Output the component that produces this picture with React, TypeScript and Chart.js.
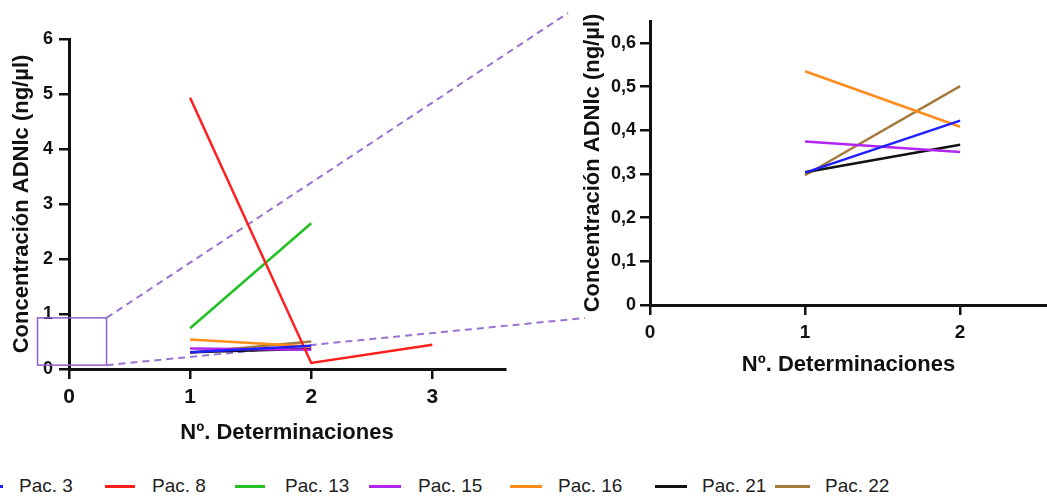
import React, { useEffect, useRef } from 'react';
import { Chart, registerables } from 'chart.js';

Chart.register(...registerables);

// ---------- data ----------
const determinations = [1, 2, 3];
const seriesNames = ['Pac. 3', 'Pac. 8', 'Pac. 13', 'Pac. 15', 'Pac. 16', 'Pac. 21', 'Pac. 22'];
const pac3 = [0.303, 0.422];
const pac8 = [4.93, 0.11, 0.44];
const pac13 = [0.74, 2.65];
const pac15 = [0.374, 0.35];
const pac16 = [0.535, 0.408];
const pac21 = [0.304, 0.367];
const pac22 = [0.297, 0.501];
const seriesValues = [pac3, pac8, pac13, pac15, pac16, pac21, pac22];
const zoomedSeries = [0, 3, 4, 5, 6];

const leftXTicks = [0, 1, 2, 3];
const leftYTicks = [0, 1, 2, 3, 4, 5, 6];
const rightXTicks = [0, 1, 2];
const rightYTicks = [0, 0.1, 0.2, 0.3, 0.4, 0.5, 0.6];
const xTitle = 'Nº. Determinaciones';
const yTitle = 'Concentración ADNlc (ng/µl)';
const zoomBoxX = [-0.26, 0.31];
const zoomBoxY = [0.07, 0.93];

// ---------- styles ----------
const colors = ['#1f1fff', '#ff1f1f', '#22c022', '#b026f0', '#ff8c1a', '#111111', '#a57a3c'];
const FONT = '"Liberation Sans", Arial, Helvetica, sans-serif';
const INK = '#111111';
const legendLayout = [
  { line: [-27, 3], text: 19 },
  { line: [105, 135], text: 152 },
  { line: [235, 265], text: 285 },
  { line: [369, 401], text: 418 },
  { line: [510, 542], text: 558 },
  { line: [655, 687], text: 702 },
  { line: [775, 810], text: 825 },
];

const toPoints = (vals: number[]) => vals.map((v, i) => ({ x: determinations[i], y: v }));

function makeDatasets(indices: number[]) {
  return indices.map((i) => ({
    label: seriesNames[i],
    data: toPoints(seriesValues[i]),
    borderColor: colors[i],
    backgroundColor: colors[i],
    borderWidth: 2.5,
    pointRadius: 0,
    pointHoverRadius: 0,
    tension: 0,
  }));
}

function makeScales(o: any) {
  const commonGrid = {
    drawOnChartArea: false,
    drawTicks: true,
    tickLength: 10,
    tickWidth: 2.5,
    tickColor: INK,
    color: INK,
    lineWidth: 2.5,
  };
  return {
    x: {
      type: 'linear',
      min: 0,
      max: o.xMax,
      afterBuildTicks: (s: any) => {
        s.ticks = o.xTicks.map((v: number) => ({ value: v }));
      },
      afterFit: (s: any) => {
        s.height = o.xHeight;
      },
      border: { display: true, color: INK, width: 3 },
      grid: commonGrid,
      ticks: {
        color: INK,
        autoSkip: false,
        maxRotation: 0,
        padding: o.xTickPad,
        font: { family: FONT, size: o.xTickSize, weight: 'bold' },
      },
      title: {
        display: true,
        text: xTitle,
        color: INK,
        font: { family: FONT, size: 22, weight: 'bold' },
        padding: { top: 0, bottom: o.xTitlePad },
      },
    },
    y: {
      type: 'linear',
      min: 0,
      max: o.yMax,
      afterBuildTicks: (s: any) => {
        s.ticks = o.yTicks.map((v: number) => ({ value: v }));
      },
      afterFit: (s: any) => {
        s.width = o.yWidth;
      },
      border: { display: true, color: INK, width: 3 },
      grid: commonGrid,
      ticks: {
        color: INK,
        autoSkip: false,
        padding: o.yTickPad,
        font: { family: FONT, size: o.yTickSize, weight: 'bold' },
        callback: (v: any) => String(v).replace('.', ','),
      },
      title: {
        display: true,
        text: yTitle,
        color: INK,
        font: { family: FONT, size: 22, weight: 'bold' },
        padding: { top: o.yTitlePad, bottom: 0 },
      },
    },
  };
}

const zoomPlugin = {
  id: 'zoomBox',
  beforeDatasetsDraw(chart: any) {
    const { ctx } = chart;
    const xs = chart.scales.x;
    const ys = chart.scales.y;
    const x0 = xs.getPixelForValue(zoomBoxX[0]);
    const x1 = xs.getPixelForValue(zoomBoxX[1]);
    const yTop = ys.getPixelForValue(zoomBoxY[1]);
    const yBot = ys.getPixelForValue(zoomBoxY[0]);
    ctx.save();
    ctx.strokeStyle = '#8e5fc9';
    ctx.lineWidth = 1.5;
    ctx.strokeRect(x0, yTop, x1 - x0, yBot - yTop);
    ctx.setLineDash([7, 5]);
    ctx.strokeStyle = '#9a72d2';
    ctx.lineWidth = 2;
    ctx.beginPath();
    ctx.moveTo(x1, yTop);
    ctx.lineTo(568, 13);
    ctx.moveTo(x1, yBot);
    ctx.lineTo(585, 318);
    ctx.stroke();
    ctx.restore();
  },
};

export default function App() {
  const leftRef = useRef<HTMLCanvasElement>(null);
  const rightRef = useRef<HTMLCanvasElement>(null);

  useEffect(() => {
    const common = {
      responsive: false,
      animation: false,
      devicePixelRatio: 1,
      plugins: { legend: { display: false }, tooltip: { enabled: false } },
      events: [],
    };
    const left = new Chart(leftRef.current as HTMLCanvasElement, {
      type: 'line',
      data: { datasets: makeDatasets([0, 1, 2, 3, 4, 5, 6]) as any },
      options: {
        ...common,
        layout: { padding: { top: 39, left: 0, right: 95, bottom: 0 } },
        scales: makeScales({
          xMax: 3.6,
          yMax: 6,
          xTicks: leftXTicks,
          yTicks: leftYTicks,
          xHeight: 81,
          yWidth: 69,
          xTickPad: 6,
          yTickPad: 6,
          xTickSize: 21,
          yTickSize: 18,
          xTitlePad: 4,
          yTitlePad: 9,
        }) as any,
      } as any,
      plugins: [zoomPlugin],
    });
    const right = new Chart(rightRef.current as HTMLCanvasElement, {
      type: 'line',
      data: { datasets: makeDatasets(zoomedSeries) as any },
      options: {
        ...common,
        layout: { padding: { top: 21, left: 0, right: 0, bottom: 0 } },
        scales: makeScales({
          xMax: 2.56,
          yMax: 0.65,
          xTicks: rightXTicks,
          yTicks: rightYTicks,
          xHeight: 85,
          yWidth: 80,
          xTickPad: 6,
          yTickPad: 4,
          xTickSize: 19,
          yTickSize: 18,
          xTitlePad: 12,
          yTitlePad: 10,
        }) as any,
      } as any,
    });
    return () => {
      left.destroy();
      right.destroy();
    };
  }, []);

  return (
    <div
      style={{
        position: 'absolute',
        left: 0,
        top: 0,
        width: 1047,
        height: 497,
        overflow: 'hidden',
        background: '#ffffff',
      }}
    >
      <canvas ref={leftRef} width={600} height={450} style={{ position: 'absolute', left: 0, top: 0 }} />
      <canvas ref={rightRef} width={477} height={390} style={{ position: 'absolute', left: 570, top: 0 }} />
      {seriesNames.map((name, i) => (
        <React.Fragment key={name}>
          <div
            style={{
              position: 'absolute',
              left: legendLayout[i].line[0],
              width: legendLayout[i].line[1] - legendLayout[i].line[0],
              top: 485,
              height: 3,
              background: colors[i],
            }}
          />
          <span
            style={{
              position: 'absolute',
              left: legendLayout[i].text,
              top: 475,
              lineHeight: '22px',
              fontFamily: FONT,
              fontSize: 19,
              color: '#222222',
              whiteSpace: 'nowrap',
            }}
          >
            {name}
          </span>
        </React.Fragment>
      ))}
    </div>
  );
}
